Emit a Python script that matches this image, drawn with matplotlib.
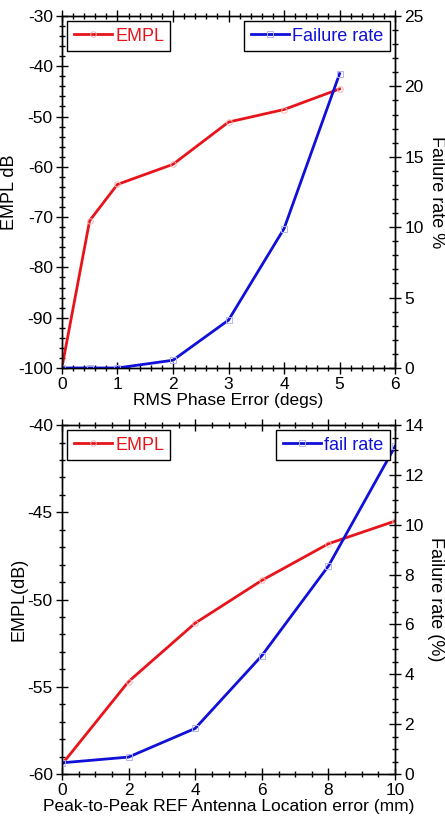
import numpy as np
import matplotlib
matplotlib.use('Agg')
import matplotlib.pyplot as plt
from matplotlib.ticker import MultipleLocator

plt.rcParams['font.family'] = ['Liberation Sans', 'DejaVu Sans']
plt.rcParams['font.size'] = 12
plt.rcParams['axes.unicode_minus'] = False

# Top chart data
phase_err = [0, 0.5, 1, 2, 3, 4, 5]
empl_phase = [-100, -70.7, -63.5, -59.5, -51.1, -48.6, -44.5]
fail_phase = [0, 0, 0, 0.55, 3.4, 9.9, 20.9]

# Bottom chart data
loc_err = [0, 2, 4, 6, 8, 10]
empl_loc = [-59.45, -54.7, -51.35, -48.9, -46.8, -45.5]
fail_loc = [0.45, 0.68, 1.83, 4.75, 8.35, 13.15]

red = '#e8141c'
blue = '#1010d8'


def style_axis(ax):
    ax.tick_params(which='major', direction='inout', length=9, width=1, labelsize=12.5, pad=2)
    ax.tick_params(which='minor', direction='inout', length=5, width=1)
    for s in ax.spines.values():
        s.set_linewidth(1)


def make_panel(fig, rect, x, y1, y2, xlim, xmaj, xmin, y1lim, y1maj, y1min,
               y2lim, y2maj, y2min, xlabel, y1label, y2label, lab2):
    ax = fig.add_axes(rect)
    ax2 = ax.twinx()
    l1, = ax.plot(x, y1, color=red, lw=2, marker='o', ms=4, mfc='none',
                  mec='#f6b4b4', mew=0.7, label='EMPL')
    l2, = ax2.plot(x, y2, color=blue, lw=2, marker='s', ms=4, mfc='none',
                   mec='#b4b4f4', mew=0.7, label=lab2)
    ax.set_xlim(*xlim)
    ax.set_ylim(*y1lim)
    ax2.set_ylim(*y2lim)
    ax.xaxis.set_major_locator(MultipleLocator(xmaj))
    ax.xaxis.set_minor_locator(MultipleLocator(xmin))
    ax.yaxis.set_major_locator(MultipleLocator(y1maj))
    ax.yaxis.set_minor_locator(MultipleLocator(y1min))
    ax2.yaxis.set_major_locator(MultipleLocator(y2maj))
    ax2.yaxis.set_minor_locator(MultipleLocator(y2min))
    ax.tick_params(axis='x', which='both', top=True)
    style_axis(ax)
    style_axis(ax2)
    ax.set_xlabel(xlabel, fontsize=12.5, labelpad=1)
    ax.set_ylabel(y1label, fontsize=13, labelpad=0)
    ax2.set_ylabel(y2label, fontsize=13, rotation=270, labelpad=15)
    leg1 = ax.legend(handles=[l1], loc='upper left', fancybox=False, edgecolor='black',
                     framealpha=1, handlelength=2.1, handletextpad=0.2, fontsize=13,
                     borderaxespad=0.3, borderpad=0.35)
    leg1.get_frame().set_linewidth(1)
    for t in leg1.get_texts():
        t.set_color(red)
    leg2 = ax2.legend(handles=[l2], loc='upper right', fancybox=False, edgecolor='black',
                      framealpha=1, handlelength=2.1, handletextpad=0.2, fontsize=13,
                      borderaxespad=0.3, borderpad=0.35)
    leg2.get_frame().set_linewidth(1)
    for t in leg2.get_texts():
        t.set_color(blue)
    return ax, ax2


fig = plt.figure(figsize=(4.45, 8.19), dpi=100)

make_panel(fig, [0.139, 0.5507, 0.749, 0.4298], phase_err, empl_phase, fail_phase,
           (0, 6), 1, 0.2, (-100, -30), 10, 2, (0, 25), 5, 1,
           'RMS Phase Error (degs)', 'EMPL dB', 'Failure rate %', 'Failure rate')

make_panel(fig, [0.139, 0.0549, 0.749, 0.4261], loc_err, empl_loc, fail_loc,
           (0, 10), 2, 0.5, (-60, -40), 5, 1, (0, 14), 2, 0.5,
           'Peak-to-Peak REF Antenna Location error (mm)', 'EMPL(dB)',
           'Failure rate (%)', 'fail rate')

fig.savefig('out.png', dpi=100)
